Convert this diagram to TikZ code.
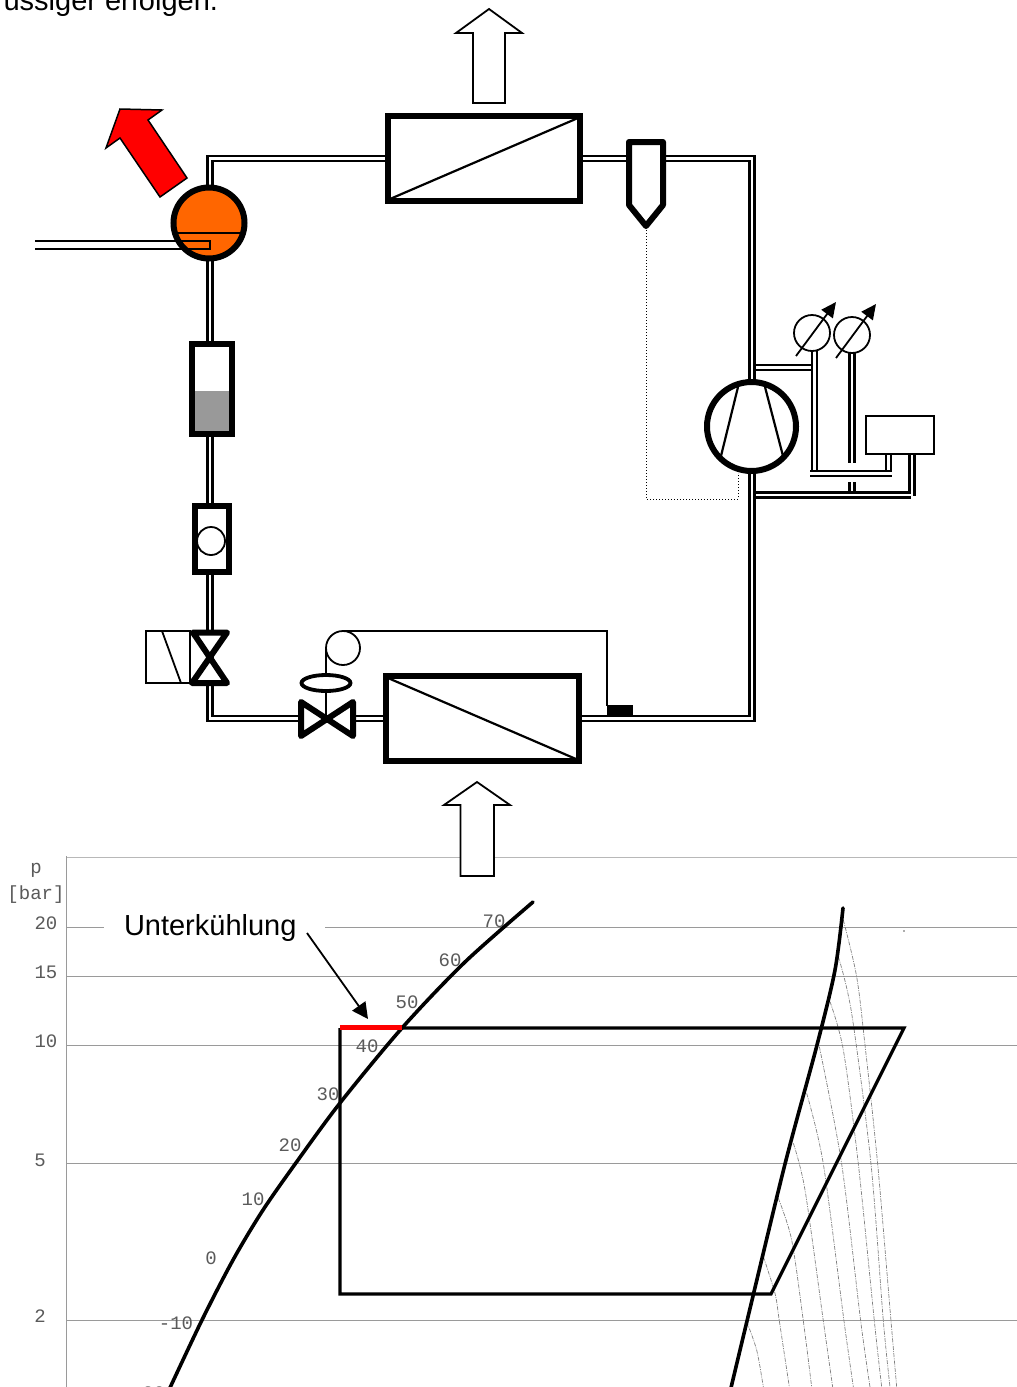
\documentclass[tikz,border=0pt]{standalone}
\usepackage{fontspec}
\setmainfont{Liberation Sans}
\newfontfamily\chartfont{Liberation Mono}
\usetikzlibrary{backgrounds,arrows.meta,shapes.geometric}
\definecolor{recvorange}{HTML}{FF6600}
\definecolor{glassgrey}{HTML}{999999}
\definecolor{gridgrey}{HTML}{9A9A9A}
\definecolor{chartink}{HTML}{5A5A5A}
\tikzset{
  heavy/.style={draw=black,line width=6pt,fill=white,inner sep=0pt,outer sep=0pt,rectangle},
  heavyround/.style={draw=black,line width=6pt,circle,inner sep=0pt,outer sep=0pt},
  valvebody/.style={draw=black,line width=6pt,fill=white,line join=round},
  thinshape/.style={draw=black,line width=1.8pt,inner sep=0pt,outer sep=0pt},
  pipe/.style={draw=black,double=white,line width=2.3pt,double distance=2.7pt,line join=miter},
  thinline/.style={draw=black,line width=1.8pt},
  airarrow/.style={draw=black,line width=1.8pt,fill=white,line join=miter},
  gaugearrow/.style={draw=black,line width=1.8pt,-{Triangle[length=15pt,width=14pt]}},
  grid/.style={draw=gridgrey,line width=1pt},
  isen/.style={draw=gray,line width=.7pt,dash pattern=on 4pt off 1.2pt on 1pt off 1.2pt},
  curve/.style={draw=black,line width=3.6pt,line cap=round},
  cycle/.style={draw=black,line width=3.2pt,line join=miter},
  axislabel/.style={font=\chartfont\fontsize{19}{21}\selectfont,text=chartink,inner sep=0pt,outer sep=0pt},
  bigtext/.style={font=\fontsize{29}{34}\selectfont,text=black,inner sep=0pt,outer sep=0pt,anchor=base west},
}
\begin{document}
\begin{tikzpicture}[x=1pt,y=-1pt]
\clip (0,0) rectangle (1017,1387);
\useasboundingbox (0,0) rectangle (1017,1387);

% cropped running text
\node[bigtext,anchor=base east] (topline) at (218,10) {üssiger erfolgen.};

% ---------- p-h chart ----------
\draw[grid,gridgrey!70] (66,857) -- (1017,857);
\draw[grid,line width=.8pt] (66,856) -- (66,1387);
\draw[grid] (66,927) -- (104,927);
\draw[grid] (325,927) -- (1017,927);
\foreach \yy in {976,1045,1163,1320} \draw[grid] (66,\yy) -- (1017,\yy);
\fill[chartink] (904,931) circle (.8);

\node[axislabel] (lp) at (36,870) {p};
\node[axislabel] (lbar) at (36,895) {[bar]};
\node[axislabel] (l20) at (46,923) {20};
\node[axislabel] (l15) at (46,972) {15};
\node[axislabel] (l10) at (46,1041) {10};
\node[axislabel] (l5) at (40,1160) {5};
\node[axislabel] (l2) at (40,1316) {2};
\node[axislabel] (t70) at (494,921) {70};
\node[axislabel] (t60) at (450,960) {60};
\node[axislabel] (t50) at (407,1002) {50};
\node[axislabel] (t40) at (367,1046) {40};
\node[axislabel] (t30) at (328,1094) {30};
\node[axislabel] (t20) at (290,1145) {20};
\node[axislabel] (t10) at (253,1199) {10};
\node[axislabel] (t0) at (211,1258) {0};
\node[axislabel] (tm10) at (176,1323) {-10};
\node[axislabel] (tm20) at (148,1393.5) {-20};

\begin{scope}[shift={(700,890)},scale=.33333]
\draw[isen] plot[smooth] coordinates {(140,1295)(170,1380)(190,1491)};
\draw[isen] plot[smooth] coordinates {(190,1100)(225,1210)(238,1293)(268,1491)};
\draw[isen] plot[smooth] coordinates {(235,925)(275,1050)(310,1293)(335,1491)};
\draw[isen] plot[smooth] coordinates {(280,760)(315,900)(370,1293)(398,1491)};
\draw[isen] plot[smooth] coordinates {(320,610)(370,822)(432,1293)(460,1491)};
\draw[isen] plot[smooth] coordinates {(358,470)(425,822)(482,1293)(510,1491)};
\draw[isen] plot[smooth] coordinates {(390,335)(430,480)(475,822)(523,1293)(545,1491)};
\draw[isen] plot[smooth] coordinates {(415,200)(455,370)(513,822)(550,1293)(570,1491)};
\draw[isen] plot[smooth] coordinates {(430,90)(470,260)(495,465)(533,822)(573,1293)(590,1491)};
\end{scope}

\draw[curve] plot[smooth] coordinates {(533,902)(465,962)(402,1028)(340,1103)(298,1160)(263,1210)(233,1260)(202,1320)(168,1392)};
\draw[curve] plot[smooth] coordinates {(843,908)(835,970)(817,1045)(785,1164)(747,1321)(730,1392)};
\draw[cycle] (402,1028) -- (904,1028) -- (771,1294) -- (340,1294) -- (340,1028);
\draw[draw=red,line width=4.5pt] (340,1027.5) -- (402,1027.5);

\node[bigtext] (ulabel) at (124,935) {Unterkühlung};
\coordinate (uarrowstart) at (307,933);
\coordinate (uarrowend) at (368,1019);
\draw[thinline,-{Triangle[length=16pt,width=16pt]}] (uarrowstart) -- (uarrowend);

% ---------- components ----------
\node[heavy,minimum width=192pt,minimum height=85pt] (cond) at (484,158.5) {};
\draw[draw=black,line width=2.2pt] (390,199) -- (578,118);
\node[heavy,minimum width=192.5pt,minimum height=85pt] (evap) at (482.25,718.5) {};
\draw[draw=black,line width=2.2pt] (388,678) -- (576,759);

\draw[valvebody] (629,142) -- (663,142) -- (663,205) -- (646,226) -- (629,205) -- cycle;

\draw[draw=black,dotted,line width=1pt] (646,230) -- (646,499) -- (738,499) -- (738,473);

\node[heavyround,fill=recvorange,minimum size=71pt] (recv) at (209,223) {};
\draw[draw=black,line width=1.5pt] (177.6,233) -- (240.4,233);
\coordinate (inlet) at (35,245);
\draw[thinline] (inlet) ++(0,-4) -- (210,241) -- (210,249) -- (35,249);

\node[heavy,minimum width=40pt,minimum height=89.5pt] (glass) at (212,388.75) {};
\fill[glassgrey] (195,391) rectangle (229,430.5);

\node[heavy,minimum width=33.5pt,minimum height=66pt] (dryer) at (211.75,539) {};
\node[thinshape,circle,minimum size=28pt] (ball) at (211,541) {};

\draw[thinline] (146,631) rectangle (190,683);
\draw[thinline] (162,631) -- (181,683);
\draw[valvebody] (193,632.5) -- (227,632.5) -- (192,683) -- (227,683) -- cycle;

\coordinate (expv) at (327,719);
\node[thinshape,circle,minimum size=34pt] (bulb) at (343,648) {};
\node[draw=black,line width=3.8pt,ellipse,inner sep=0pt,outer sep=0pt,fill=white,minimum width=49pt,minimum height=16pt] (head) at (326,683) {};
\draw[thinline] (head.north) -- (head.north |- bulb.west);
\draw[thinline] (head.south) -- (head.south |- expv);
\draw[valvebody] (301,702) -- (301,736) -- (353,702) -- (353,736) -- cycle;
\draw[thinline] (bulb.north) -| (607,706);
\fill[black] (607,705) rectangle (633,717);

\node[heavyround,fill=white,minimum size=89pt] (comp) at (751.5,426.5) {};
\draw[draw=black,line width=2.2pt] (738,387) -- (721,456);
\draw[draw=black,line width=2.2pt] (765,387) -- (783,456);

\node[thinshape,circle,minimum size=36pt] (g1) at (812,333) {};
\node[thinshape,circle,minimum size=36pt] (g2) at (852,335) {};
\draw[gaugearrow] (796,356) -- (836,302);
\draw[gaugearrow] (836,358) -- (876,304);

\node[thinshape,fill=white,minimum width=68pt,minimum height=38pt] (ctrl) at (900,435) {};

% air arrows
\draw[airarrow] (489,9) -- (522,33) -- (505,33) -- (505,103) -- (473,103) -- (473,33) -- (456,33) -- cycle;
\draw[airarrow] (477,782) -- (510,805) -- (494,805) -- (494,876) -- (460.5,876) -- (460.5,805) -- (444,805) -- cycle;
\draw[draw=black,line width=1.5pt,fill=red,line join=miter] (120,109) -- (162,110) -- (148,120) -- (187,178) -- (160,197) -- (120,138) -- (106,148) -- cycle;

% ---------- pipes, behind the components ----------
\begin{scope}[on background layer]
\fill[white] (0,0) rectangle (1017,1387);
\coordinate (jtop) at (752,367.5);
\coordinate (jbot) at (752,495);
\coordinate (c1a) at (888.5,0);
\coordinate (c2a) at (912,0);
\coordinate (g1a) at (814.5,0);
\coordinate (topx) at (210,0);
% open-ended branch runs, each a straight piece
\draw[pipe] (jtop) -- (813.5,367.5);
\draw[pipe] (g1.south -| g1a) -- (814.5,472);
\draw[pipe] (ctrl.south -| c1a) -- (888.5,472);
\draw[pipe] (810,473.5) -- (892,473.5);
\draw[pipe] (g2.south) -- (852,463);
\draw[pipe] (852,482) -- (852,493);
\draw[pipe] (ctrl.south -| c2a) -- (912,496);
\draw[pipe] (jbot) -- (911,495);
% main loop
\draw[pipe] (recv.north -| topx) -- (210,158.5) -- (cond.west);
\draw[pipe] (cond.east) -- (752,158.5) -- (752,718.5) -- (evap.east);
\draw[pipe] (evap.west) -- (210,718.5) -- (210,223);
\end{scope}
\end{tikzpicture}
\end{document}
